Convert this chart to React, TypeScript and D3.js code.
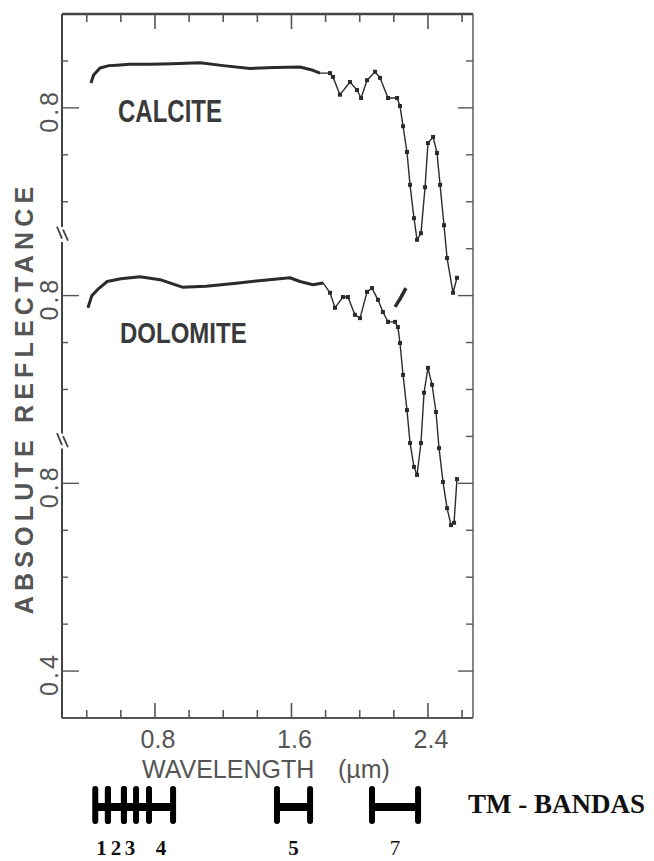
import React from 'react';
import * as d3 from 'd3';

// spectra: [wavelength µm, reflectance]
const calcite: [number, number][] = [
  [0.425, 0.853], [0.44, 0.87], [0.478, 0.885], [0.53, 0.89], [0.577, 0.891],
  [0.65, 0.893], [0.771, 0.893], [0.9, 0.894], [1.064, 0.896], [1.2, 0.89],
  [1.357, 0.884], [1.5, 0.886], [1.65, 0.887], [1.726, 0.88], [1.767, 0.874],
  [1.826, 0.874], [1.843, 0.866], [1.884, 0.828], [1.943, 0.855], [1.984, 0.838],
  [2.008, 0.821], [2.043, 0.859], [2.09, 0.877], [2.119, 0.864], [2.166, 0.821],
  [2.219, 0.821], [2.236, 0.804], [2.254, 0.761], [2.277, 0.706], [2.295, 0.636],
  [2.318, 0.565], [2.336, 0.519], [2.359, 0.533], [2.383, 0.631], [2.4, 0.725],
  [2.43, 0.738], [2.453, 0.704], [2.471, 0.636], [2.494, 0.55], [2.512, 0.48],
  [2.547, 0.406], [2.57, 0.438],
];

const dolomite: [number, number][] = [
  [0.407, 0.774], [0.43, 0.8], [0.47, 0.815], [0.52, 0.83], [0.6, 0.836],
  [0.712, 0.84], [0.83, 0.834], [0.96, 0.818], [1.1, 0.82], [1.29, 0.827],
  [1.5, 0.835], [1.59, 0.838], [1.65, 0.83], [1.726, 0.823], [1.785, 0.827],
  [1.826, 0.806], [1.855, 0.774], [1.902, 0.797], [1.931, 0.797], [1.972, 0.759],
  [2.002, 0.752], [2.043, 0.808], [2.072, 0.816], [2.107, 0.791], [2.136, 0.765],
  [2.166, 0.744], [2.207, 0.744], [2.224, 0.733], [2.236, 0.699], [2.254, 0.631],
  [2.277, 0.556], [2.295, 0.486], [2.318, 0.435], [2.336, 0.418], [2.359, 0.486],
  [2.377, 0.593], [2.4, 0.646], [2.424, 0.61], [2.447, 0.552], [2.465, 0.475],
  [2.488, 0.403], [2.512, 0.347], [2.535, 0.311], [2.553, 0.316], [2.57, 0.409],
];

// short detached stroke next to the dolomite curve
const dolomiteFragment: [number, number][] = [[2.207, 0.776], [2.24, 0.795], [2.271, 0.816]];

// vertical offsets of the stacked curves
const calciteOffset = 0.8;
const dolomiteOffset = 0.4;

const xTickLabels = [0.8, 1.6, 2.4];
const yTickLabels = [
  { text: '0.8', value: 0.8, offset: calciteOffset },
  { text: '0.8', value: 0.8, offset: dolomiteOffset },
  { text: '0.8', value: 0.8, offset: 0 },
  { text: '0.4', value: 0.4, offset: 0 },
];
const axisBreaks = [1.33, 0.89];

const tmBands = [
  { label: '1', from: 0.45, to: 0.524 },
  { label: '2', from: 0.524, to: 0.618 },
  { label: '3', from: 0.618, to: 0.689 },
  { label: '4', from: 0.765, to: 0.906 },
  { label: '5', from: 1.515, to: 1.709 },
  { label: '7', from: 2.072, to: 2.342 },
];

const W = 654;
const H = 861;
const x = d3.scaleLinear().domain([0.255, 2.664]).range([62, 473]);
const y = d3.scaleLinear().domain([0.3, 1.8]).range([718, 14]);

const ink = '#2b2b2b';
const gray = '#555';
const sans = '"Liberation Sans", Arial, sans-serif';
const serif = '"Liberation Serif", "Times New Roman", serif';

function Spectrum({ data, offset }: { data: [number, number][]; offset: number }) {
  const line = d3.line<[number, number]>().x(d => x(d[0])).y(d => y(d[1] + offset));
  const flat = data.filter(d => d[0] <= 1.8);
  const dotted = data.filter(d => d[0] >= 1.8);
  return (
    <g>
      <path d={line(data) || ''} fill="none" stroke={ink} strokeWidth={1.4} />
      <path d={line(flat) || ''} fill="none" stroke={ink} strokeWidth={3} strokeLinejoin="round" />
      {dotted.map((d, i) => (
        <rect key={i} x={x(d[0]) - 2} y={y(d[1] + offset) - 2} width={4} height={4} fill={ink} />
      ))}
    </g>
  );
}

export default function App() {
  const minor = x.ticks(12);
  const yTicks = y.ticks(15).filter(v => v > 0.31 && v < 1.79);
  const major = yTickLabels.map(t => t.value + t.offset);
  const isMajor = (v: number) => major.some(m => Math.abs(m - v) < 1e-6);
  const gap = 0.016;

  // left axis pieces between the breaks
  const leftSegs: [number, number][] = [];
  let top = 1.8;
  axisBreaks.forEach(b => { leftSegs.push([top, b + gap]); top = b - gap; });
  leftSegs.push([top, 0.3]);

  const bandTop = 789;
  const bandBot = 821;
  const bandMid = 807;

  return (
    <div style={{ position: 'absolute', left: 0, top: 0 }}>
      <svg width={W} height={H} style={{ display: 'block', background: '#fff' }}>
        {/* frame */}
        <line x1={x.range()[0]} x2={x.range()[1]} y1={y(1.8)} y2={y(1.8)} stroke="#444" strokeWidth={2.5} />
        <line x1={x.range()[0]} x2={x.range()[1]} y1={y(0.3)} y2={y(0.3)} stroke={gray} strokeWidth={2} />
        <line x1={x.range()[1]} x2={x.range()[1]} y1={y(1.8)} y2={y(0.3)} stroke="#666" strokeWidth={1.6} />
        {leftSegs.map((s, i) => (
          <line key={i} x1={x.range()[0]} x2={x.range()[0]} y1={y(s[0])} y2={y(s[1])} stroke="#444" strokeWidth={2} />
        ))}
        {axisBreaks.map((b, i) => {
          const cx = x.range()[0];
          const cy = y(b);
          return (
            <g key={i} stroke="#444" strokeWidth={1.8} fill="none">
              <line x1={cx - 5} y1={cy - 8} x2={cx} y2={cy + 4} />
              <line x1={cx + 1} y1={cy - 5} x2={cx + 6} y2={cy + 6} />
            </g>
          );
        })}

        {/* x ticks top and bottom */}
        {minor.map((v, i) => {
          const len = xTickLabels.some(t => Math.abs(t - v) < 1e-6) ? 15 : 8;
          return (
            <g key={i} stroke={gray} strokeWidth={1.6}>
              <line x1={x(v)} x2={x(v)} y1={y(1.8)} y2={y(1.8) + len} />
              <line x1={x(v)} x2={x(v)} y1={y(0.3)} y2={y(0.3) - len} />
            </g>
          );
        })}
        {xTickLabels.map((v, i) => (
          <text key={i} x={x(v) + 3} y={748} textAnchor="middle" fontFamily={sans} fontSize={25} fill={gray}>
            {v.toFixed(1)}
          </text>
        ))}

        {/* y ticks */}
        {yTicks.map((v, i) => {
          const len = isMajor(v) ? 15 : 7;
          const onLeft = !axisBreaks.some(b => Math.abs(b - v) < 0.06);
          return (
            <g key={i} stroke={gray} strokeWidth={1.4}>
              {onLeft && <line x1={x.range()[0]} x2={x.range()[0] + (isMajor(v) ? 17 : 6)} y1={y(v)} y2={y(v)} />}
              <line x1={x.range()[1]} x2={x.range()[1] - len} y1={y(v)} y2={y(v)} />
            </g>
          );
        })}
        {yTickLabels.map((t, i) => (
          <text key={i} transform={`translate(58,${y(t.value + t.offset) + 3}) rotate(-90)`} textAnchor="middle"
            fontFamily={sans} fontSize={25} letterSpacing={3} fill={gray}>
            {t.text}
          </text>
        ))}

        {/* axis titles */}
        <text transform="translate(33,398) rotate(-90)" textAnchor="middle" fontFamily={sans} fontSize={25}
          fontWeight="bold" letterSpacing={5.2} fill={gray}>
          ABSOLUTE REFLECTANCE
        </text>
        <text x={142} y={778} fontFamily={sans} fontSize={25} fill={gray}>
          WAVELENGTH
          <tspan x={338}>(µm)</tspan>
        </text>

        {/* spectra */}
        <Spectrum data={calcite} offset={calciteOffset} />
        <Spectrum data={dolomite} offset={dolomiteOffset} />
        <path d={d3.line<[number, number]>().x(d => x(d[0])).y(d => y(d[1] + dolomiteOffset))(dolomiteFragment) || ''}
          fill="none" stroke={ink} strokeWidth={3.5} />

        <text transform="translate(118,122) scale(1,1.27)" fontFamily={sans} fontSize={24} fontWeight="bold" fill="#3a3a3a">
          CALCITE
        </text>
        <text transform="translate(120,343) scale(1,1.22)" fontFamily={sans} fontSize={24} fontWeight="bold" fill="#3a3a3a">
          DOLOMITE
        </text>

        {/* Landsat TM bands */}
        {tmBands.map((b, i) => {
          const next = tmBands[i + 1];
          const joined = next && next.from - b.to < 0.1;
          return (
            <g key={b.label}>
              <line x1={x(b.from)} x2={joined ? x(next.from) : x(b.to)} y1={bandMid} y2={bandMid} stroke="#000" strokeWidth={8} />
              <line x1={x(b.from)} x2={x(b.from)} y1={bandTop} y2={bandBot} stroke="#000" strokeWidth={6} strokeLinecap="round" />
              <line x1={x(b.to)} x2={x(b.to)} y1={bandTop} y2={bandBot} stroke="#000" strokeWidth={6} strokeLinecap="round" />
              <text x={(x(b.from) + x(b.to)) / 2} y={855} textAnchor="middle" fontFamily={serif} fontSize={21}
                fontWeight={b.label === '7' ? 'normal' : 'bold'} fill="#111">
                {b.label}
              </text>
            </g>
          );
        })}
        <text x={468} y={813} fontFamily={serif} fontSize={27} fontWeight="bold" fill="#111">TM - BANDAS</text>
      </svg>
    </div>
  );
}
